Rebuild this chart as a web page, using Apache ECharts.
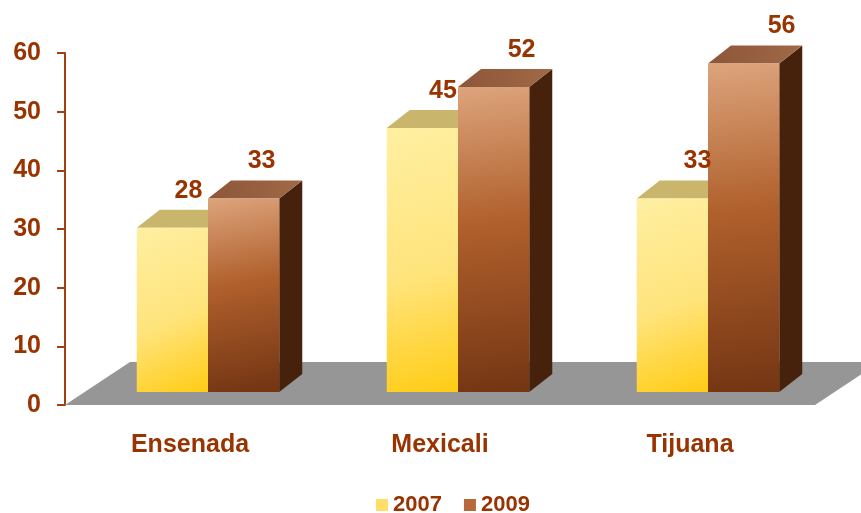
<!DOCTYPE html>
<html>
<head>
    <meta charset="utf-8">
    <title>Bar Chart</title>
    <script src="https://cdn.jsdelivr.net/npm/echarts@6/dist/echarts.min.js"></script>
    <style>
        body { margin: 0; background: #fff; }
    </style>
</head>
<body>
    <div id="main" style="width: 861px;height:513px;"></div>
    <script type="text/javascript">
        var cities = ['Ensenada', 'Mexicali', 'Tijuana'];
        var years = ['2007', '2009'];
        var values2007 = [28, 45, 33];
        var values2009 = [33, 52, 56];
        var yTicks = [0, 10, 20, 30, 40, 50, 60];

        var textColor = '#993300';
        var font = 'Liberation Sans, Arial, sans-serif';

        var faces = [
            {
                front: new echarts.graphic.LinearGradient(0, 0, 1, 1, [
                    { offset: 0, color: '#FFEFA2' },
                    { offset: 0.55, color: '#FFE47C' },
                    { offset: 1, color: '#FFCC14' }
                ]),
                top: '#C9B56C',
                side: '#B89A3A'
            },
            {
                front: new echarts.graphic.LinearGradient(0, 0, 0.5, 1, [
                    { offset: 0, color: '#DDA47C' },
                    { offset: 0.45, color: '#B0602C' },
                    { offset: 1, color: '#753614' }
                ]),
                top: new echarts.graphic.LinearGradient(0, 0, 1, 0, [
                    { offset: 0, color: '#8C5638' },
                    { offset: 1, color: '#A06A48' }
                ]),
                side: '#46220C'
            }
        ];
        // label shift, perspective-ish
        var labelShift = [
            function (x) { return -7 + 0.018 * (x - 195); },
            function (x) { return -5 + 0.04 * (x - 267); }
        ];

        var myChart = echarts.init(document.getElementById('main'));

        // pseudo 3D bar, front face follows the value axis
        function barItem(s) {
            return function (params, api) {
                var cat = api.value(0);
                var val = api.value(1);
                var bw = api.size([1, 0])[0];
                var base = api.coord([cat, 0]);
                var top = api.coord([cat, val]);
                var lift = 13;
                var dx = 23, dy = -18;
                var w = bw * 0.285;
                var x0 = base[0] + bw * 0.072 - w + s * w;
                var x1 = x0 + w;
                var yb = base[1] - lift;
                var yt = top[1] - lift;
                var backMid = x0 + w / 2 + dx;
                return {
                    type: 'group',
                    children: [
                        {
                            type: 'polygon',
                            shape: { points: [[x1, yb], [x1 + dx, yb + dy], [x1 + dx, yt + dy], [x1, yt]] },
                            style: { fill: faces[s].side }
                        },
                        {
                            type: 'polygon',
                            shape: { points: [[x0, yt], [x1, yt], [x1 + dx, yt + dy], [x0 + dx, yt + dy]] },
                            style: { fill: faces[s].top }
                        },
                        {
                            type: 'rect',
                            shape: { x: x0, y: yt, width: w, height: yb - yt },
                            style: { fill: faces[s].front }
                        },
                        {
                            type: 'text',
                            z2: 100,
                            style: {
                                text: String(val),
                                x: backMid + labelShift[s](backMid),
                                y: yt + dy - 19,
                                align: 'center',
                                verticalAlign: 'middle',
                                fill: textColor,
                                font: 'bold 25px ' + font
                            }
                        }
                    ]
                };
            };
        }

        function floorItem(params, api) {
            var bw = api.size([1, 0])[0];
            var p = api.coord([0, 0]);
            var left = p[0] - bw / 2;
            var right = left + bw * cities.length;
            var y = p[1];
            return {
                type: 'polygon',
                shape: { points: [[left, y], [right, y], [right + 65, y - 43], [left + 65, y - 43]] },
                style: { fill: '#969696' }
            };
        }

        var option = {
            backgroundColor: '#fff',
            animation: false,
            grid: { left: 65, right: 46, top: 53, bottom: 108 },
            legend: {
                data: years,
                left: 371,
                top: 489,
                itemWidth: 12,
                itemHeight: 12,
                itemGap: 22,
                icon: 'rect',
                textStyle: { color: textColor, fontWeight: 'bold', fontSize: 22, fontFamily: font }
            },
            xAxis: {
                type: 'category',
                data: cities,
                axisLine: { show: false },
                axisTick: { show: false },
                axisLabel: { color: textColor, fontWeight: 'bold', fontSize: 25, fontFamily: font, margin: 28 }
            },
            yAxis: {
                type: 'value',
                min: yTicks[0],
                max: yTicks[yTicks.length - 1],
                interval: 10,
                splitLine: { show: false },
                axisLine: { show: true, lineStyle: { color: '#A0410F', width: 2 } },
                axisTick: { show: true, length: 8, lineStyle: { color: '#A0410F', width: 2 } },
                axisLabel: { color: textColor, fontWeight: 'bold', fontSize: 25, fontFamily: font, margin: 24 }
            },
            series: [
                {
                    name: 'floor',
                    type: 'custom',
                    z: 1,
                    silent: true,
                    renderItem: floorItem,
                    data: [[0, 0]]
                },
                {
                    name: years[0],
                    type: 'custom',
                    z: 2,
                    itemStyle: { color: '#FFDD66' },
                    renderItem: barItem(0),
                    encode: { x: 0, y: 1 },
                    data: values2007.map(function (v, i) { return [i, v]; })
                },
                {
                    name: years[1],
                    type: 'custom',
                    z: 2,
                    itemStyle: { color: '#B8693C' },
                    renderItem: barItem(1),
                    encode: { x: 0, y: 1 },
                    data: values2009.map(function (v, i) { return [i, v]; })
                }
            ]
        };
        myChart.setOption(option);
    </script>
</body>
</html>
